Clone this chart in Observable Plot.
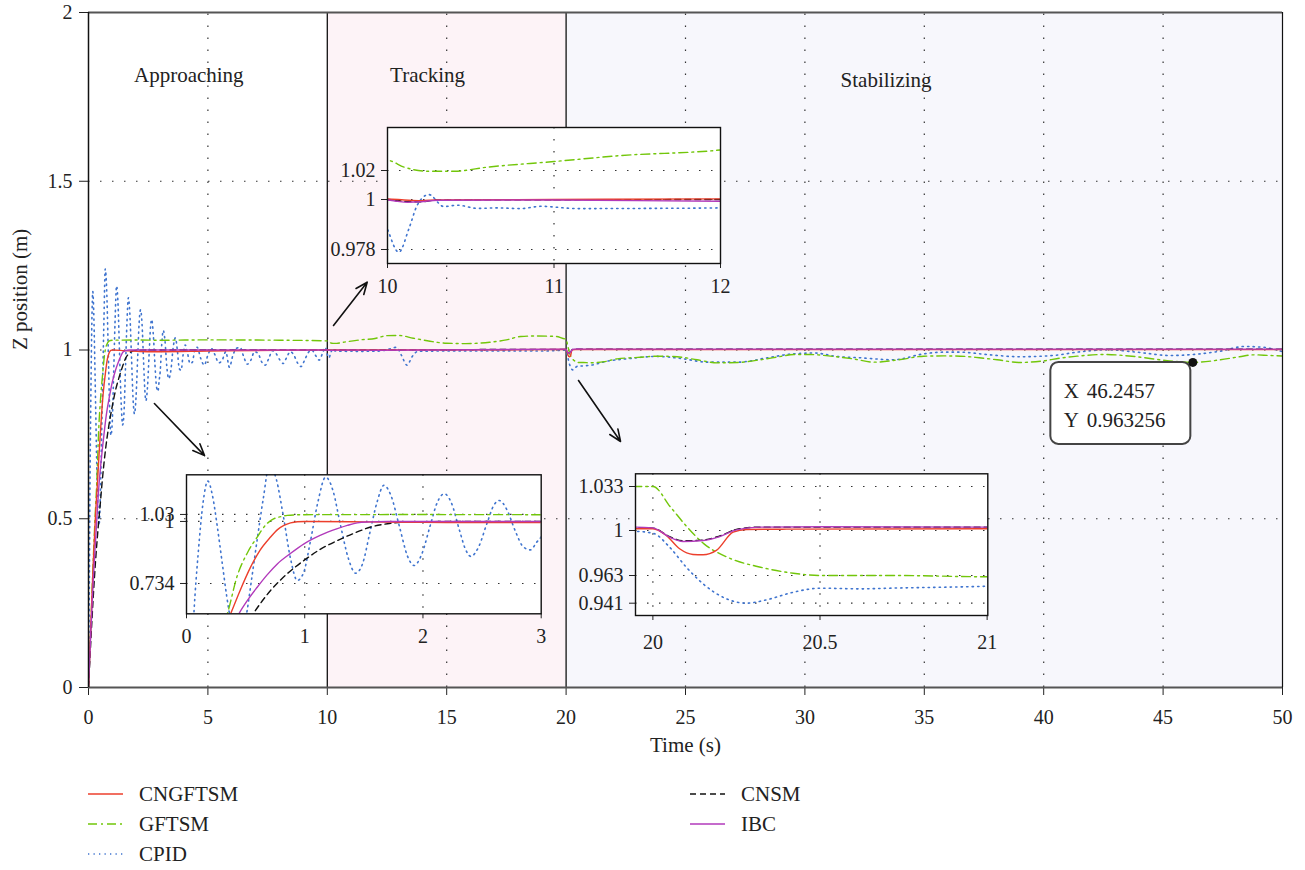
<!DOCTYPE html>
<html><head><meta charset="utf-8">
<script src="https://cdn.jsdelivr.net/npm/d3@7"></script>
<script src="https://cdn.jsdelivr.net/npm/@observablehq/plot@0.6"></script>
<style>
body{margin:0;background:#fff;font-family:"Liberation Serif","Times New Roman",serif;color:#222;}
#wrap{position:relative;width:1305px;height:870px;overflow:hidden;}
.inset{position:absolute;}
.leg{position:absolute;display:flex;align-items:center;font-size:21px;}
.leg svg{margin-right:15px;}
</style></head><body><div id="wrap"></div>
<script>
// ---------- DATA ----------
const seriesNames = ["CNGFTSM","GFTSM","CPID","CNSM","IBC"];
const seriesColors = ["#ec3f2c","#72c60a","#3f74cf","#111111","#b23abb"];
const seriesDash = ["", "9,4,2,4", "1.3,4.2", "6,4", ""];

const cngT = [0,0.1,0.2,0.3,0.373,0.45,0.542,0.62,0.711,0.77,0.824,0.88,0.937,1.0,1.5,2.0,2.5,3.0,5,10,10.1,10.2,10.3,11,12,15,19.948,20.0,20.04,20.08,20.12,20.15,20.19,20.24,20.28,20.4,21,30,40,50];
const cngZ = [0,0.19,0.37,0.52,0.604,0.70,0.804,0.875,0.933,0.965,0.983,0.994,0.999,1.0,0.998,0.996,0.995,0.995,0.997,1.0003,0.9998,0.9995,0.9998,1.0,1.0004,1.0003,1.0013,1.0013,0.9959,0.985,0.9803,0.980,0.9836,0.9986,1.0008,1.001,1.0013,1.001,1.001,1.001];

const gftT = [0,0.1,0.2,0.3,0.345,0.43,0.52,0.598,0.67,0.74,0.8,0.852,1.0,2,3,5,8,10,10.1,10.24,10.4,10.6,11,11.4,12,12.5,13,13.6,14.3,15,15.8,16.8,17.5,18.1,18.8,19.6,19.948,20.0,20.053,20.103,20.153,20.223,20.322,20.42,20.5,20.72,21.0,21.6,22.14,23,23.81,24.65,25.49,26.33,27.17,28.14,29.0,29.54,30.2,31.21,32.0,32.9,34.0,34.98,35.8,36.5,37.3,38.05,39.03,40.0,40.7,41.4,42.52,43.9,45.17,46.25,47.4,48.2,48.8,49.4,50];
const gftZ = [0,0.19,0.38,0.54,0.604,0.768,0.87,0.933,0.985,1.0116,1.021,1.026,1.029,1.0295,1.029,1.03,1.029,1.027,1.0223,1.0195,1.0195,1.0223,1.0262,1.0303,1.0342,1.0425,1.043,1.035,1.026,1.020,1.019,1.023,1.03,1.040,1.0415,1.040,1.033,1.033,1.0175,1.0025,0.989,0.978,0.9698,0.9649,0.963,0.963,0.962,0.9655,0.9738,0.978,0.9817,0.980,0.971,0.962,0.963,0.971,0.981,0.9867,0.9867,0.9807,0.974,0.964,0.9717,0.9817,0.9825,0.9817,0.977,0.971,0.963,0.968,0.976,0.9817,0.9867,0.980,0.9684,0.9633,0.971,0.980,0.9857,0.984,0.982];

const cpidT = [0,0.03,0.062,0.1,0.14,0.18,0.22,0.26,0.30,0.34,0.38,0.44,0.5,0.55,0.6,0.65,0.7,0.76,0.82,0.88,0.937,0.99,1.05,1.11,1.177,1.24,1.3,1.37,1.43,1.49,1.55,1.61,1.67,1.73,1.8,1.87,1.925,1.99,2.06,2.12,2.18,2.24,2.31,2.36,2.405,2.47,2.54,2.6,2.645,2.71,2.78,2.85,2.91,2.96,3.0,3.07,3.13,3.2,3.28,3.36,3.45,3.55,3.64,3.72,3.8,3.88,3.96,4.05,4.15,4.25,4.35,4.45,4.55,4.7,4.85,5.0,5.15,5.3,5.45,5.6,5.75,5.9,6.05,6.2,6.35,6.5,6.65,6.8,6.95,7.1,7.25,7.4,7.55,7.7,7.85,8.0,8.15,8.3,8.45,8.6,8.75,8.9,9.05,9.2,9.35,9.5,9.66,9.8,9.92,10.0,10.068,10.128,10.178,10.248,10.338,10.42,10.54,10.66,10.8,10.92,11.14,11.6,11.98,12.3,12.6,12.9,13.1,13.34,13.55,13.8,15,17,19,19.948,20.0,20.05,20.1,20.15,20.22,20.28,20.34,20.42,20.5,20.62,20.72,21.0,21.72,22.56,23.8,24.9,25.9,27.2,28.42,29.5,30.4,31.35,32.3,33.7,34.98,35.8,36.5,37.6,39.0,40.4,41.4,42.66,43.9,45.3,46.25,47.4,48.4,49.2,50];
const cpidZ = [0,0.25,0.6,0.87,1.08,1.173,1.11,0.98,0.83,0.68,0.56,0.48,0.58,0.75,0.93,1.1,1.24,1.18,1.02,0.84,0.747,0.78,0.92,1.08,1.19,1.13,0.99,0.84,0.778,0.82,0.95,1.08,1.155,1.11,0.98,0.85,0.811,0.86,0.98,1.08,1.119,1.08,0.96,0.88,0.85,0.89,0.99,1.07,1.09,1.05,0.96,0.89,0.878,0.91,0.934,1.02,1.058,1.03,0.95,0.915,0.94,1.01,1.036,1.0,0.945,0.94,0.985,1.015,0.99,0.96,0.964,1.0,1.008,0.975,0.955,0.985,1.004,0.985,0.962,0.97,0.995,0.949,0.985,1.005,1.008,0.98,0.958,0.97,0.995,0.99,0.965,0.955,0.975,0.998,0.99,0.972,0.96,0.978,0.995,0.985,0.962,0.951,0.97,0.992,1.0,0.985,0.97,0.99,1.008,0.987,0.9768,0.987,0.9974,1.0034,0.9969,0.9975,0.9961,0.9963,0.996,0.997,0.996,0.9961,0.9963,0.998,1.003,1.008,0.985,0.955,0.98,0.996,0.997,0.997,0.997,0.9992,0.9978,0.9863,0.9698,0.9564,0.9445,0.941,0.9437,0.9497,0.9529,0.9524,0.953,0.9545,0.9668,0.974,0.981,0.974,0.964,0.964,0.9768,0.9886,0.991,0.9807,0.977,0.971,0.9886,0.9936,0.9936,0.9867,0.980,0.9837,0.9936,1.0005,0.9936,0.9837,0.9867,0.9966,1.0104,1.008,0.995];

const cnsmT = [0,0.1,0.2,0.3,0.4,0.5,0.565,0.711,0.85,0.994,1.13,1.276,1.42,1.558,1.7,1.84,2.0,2.4,3,5,10,10.1,10.2,10.3,12,19.948,20.0,20.05,20.09,20.15,20.2,20.25,20.32,21,50];
const cnsmZ = [0,0.14,0.27,0.38,0.47,0.55,0.604,0.704,0.775,0.833,0.88,0.918,0.95,0.976,0.99,0.997,0.999,1.0,1.0,1.0,1.0,0.9992,0.999,0.9998,1.0,1.002,1.0018,0.995,0.9915,0.9922,0.9955,1.0008,1.0025,1.0025,1.0025];

const ibcT = [0,0.1,0.2,0.3,0.443,0.52,0.598,0.68,0.768,0.88,0.994,1.13,1.276,1.36,1.445,1.55,1.7,2.0,3,10,10.06,10.12,10.2,10.3,11,12,19.948,20.0,20.05,20.09,20.15,20.2,20.25,20.32,20.5,21,50];
const ibcZ = [0,0.17,0.32,0.44,0.604,0.665,0.718,0.77,0.818,0.863,0.904,0.94,0.969,0.983,0.994,0.998,1.0,1.0,1.0,0.9998,0.9992,0.9988,0.999,0.9997,0.9998,0.9992,1.0025,1.002,0.9945,0.991,0.9918,0.995,1.0005,1.0025,1.0028,1.0025,1.0025];

const xTicksMain = [0,5,10,15,20,25,30,35,40,45,50];
const yTicksMain = [0,0.5,1,1.5,2];
const gridXMain = [5,15,25,30,35,40,45];
const gridYMain = [0.5,1,1.5];
const phaseStart = [0,10,20], phaseEnd = [10,20,50];
const phaseFill = ["#ffffff","#fdf3f7","#f7f7fc"];
const phaseNames = ["Approaching","Tracking","Stabilizing"];
const phaseLabelX = [4.2,14.2,33.4], phaseLabelY = [1.813,1.813,1.80];
const arrowX1 = [10.26,2.76,20.52], arrowY1 = [1.0726,0.8415,0.9096];
const arrowX2 = [11.67,4.86,22.28], arrowY2 = [1.2009,0.687,0.729];
const tipT = [46.2457], tipZ = [0.963256];
const tipLabels = ["X","Y"], tipValues = ["46.2457","0.963256"];

// ---------- BUILD ----------
const FONT = '"Liberation Serif","Times New Roman",serif';
const seriesData = {
  CNGFTSM: [cngT, cngZ], GFTSM: [gftT, gftZ], CPID: [cpidT, cpidZ], CNSM: [cnsmT, cnsmZ], IBC: [ibcT, ibcZ]
};
function rows(name){ const [T,Z] = seriesData[name]; return T.map((t,i)=>({t, z:Z[i], name})); }
const drawOrder = ["CPID","GFTSM","CNSM","CNGFTSM","IBC"];
function lines(lo, hi, fy){
  return drawOrder.map(name => {
    const i = seriesNames.indexOf(name);
    const data = rows(name).filter((d,k,a)=> (d.t>=lo && d.t<=hi) || (a[k+1] && a[k+1].t>=lo && d.t<lo) || (a[k-1] && a[k-1].t<=hi && d.t>hi));
    const o = {x:"t", y: fy ? (d=>fy(d.z)) : "z", stroke: seriesColors[i], strokeWidth: name==="CPID"?1.6:1.4, curve:"monotone-x", clip:true};
    if (seriesDash[i]) o.strokeDasharray = seriesDash[i];
    return Plot.line(data, o);
  });
}
const wrap = document.getElementById("wrap");
const phases = phaseStart.map((s,i)=>({s, e:phaseEnd[i], fill:phaseFill[i]}));
const phaseLbl = phaseNames.map((n,i)=>({n, x:phaseLabelX[i], y:phaseLabelY[i]}));
const arrows = arrowX1.map((x,i)=>({x1:x, y1:arrowY1[i], x2:arrowX2[i], y2:arrowY2[i]}));
const tip = [{t:tipT[0], z:tipZ[0]}];
const dotted = {stroke:"#333", strokeWidth:1.2, strokeDasharray:"1.5,10.5"};

const main = Plot.plot({
  width:1305, height:770, marginLeft:88, marginRight:23, marginTop:12, marginBottom:83,
  style:{fontFamily:FONT, fontSize:"20px", background:"transparent", color:"#222", overflow:"visible"},
  x:{domain:[0,50], ticks:xTicksMain, tickSize:8, tickPadding:14, tickFormat:d=>String(d), label:null},
  y:{domain:[0,2], ticks:yTicksMain, tickSize:9, tickPadding:7, tickFormat:d=>String(d), label:null},
  marks:[
    Plot.rect(phases, {x1:"s", x2:"e", y1:0, y2:2, fill:d=>d.fill}),
    Plot.ruleX(gridXMain, {y1:0, y2:2, ...dotted}),
    Plot.ruleY(gridYMain, {x1:0, x2:50, ...dotted}),
    Plot.ruleX([10,20], {y1:0, y2:2, stroke:"#111", strokeWidth:1.3}),
    Plot.text(phaseLbl, {x:"x", y:"y", text:"n", fontSize:21, fill:"#222"}),
    ...lines(0,50),
    Plot.ruleY([0], {x1:0, x2:50, stroke:"#555", strokeWidth:2.2}),
    Plot.ruleY([2], {x1:0, x2:50, stroke:"#555", strokeWidth:2.2}),
    Plot.ruleX([0], {y1:0, y2:2, stroke:"#111", strokeWidth:1.5}),
    Plot.ruleX([50], {y1:0, y2:2, stroke:"#111", strokeWidth:1.2}),
    Plot.arrow(arrows, {x1:"x1", y1:"y1", x2:"x2", y2:"y2", stroke:"#111", strokeWidth:1.6, headLength:12, headAngle:45}),
    Plot.rect(tip, {x1:"t", x2:"t", y1:"z", y2:"z", insetLeft:-142, insetRight:2, insetBottom:-82, insetTop:0, fill:"white", stroke:"#444", strokeWidth:2, rx:8}),
    Plot.text(tip, {x:"t", y:"z", text:()=>tipLabels[0], dx:-129, dy:29, textAnchor:"start", fontSize:21, fill:"#222"}),
    Plot.text(tip, {x:"t", y:"z", text:()=>tipValues[0], dx:-106, dy:29, textAnchor:"start", fontSize:21, fill:"#222"}),
    Plot.text(tip, {x:"t", y:"z", text:()=>tipLabels[1], dx:-129, dy:58, textAnchor:"start", fontSize:21, fill:"#222"}),
    Plot.text(tip, {x:"t", y:"z", text:()=>tipValues[1], dx:-106, dy:58, textAnchor:"start", fontSize:21, fill:"#222"}),
    Plot.dot(tip, {x:"t", y:"z", r:4.5, fill:"#111"}),
    Plot.text(["Time (s)"], {frameAnchor:"bottom", dy:64, text:d=>d, fontSize:21, fill:"#222"}),
    Plot.text(["Z position (m)"], {frameAnchor:"left", dx:-68, rotate:-90, text:d=>d, fontSize:21, fill:"#222"})
  ]
});
wrap.appendChild(main);
main.style.position="absolute"; main.style.left="0px"; main.style.top="0px";

// ---------- INSETS ----------
// Inset y axes in the source are not uniformly spaced; a piecewise d3 map gives the display coordinate.
function inset(cfg){
  const fy = cfg.yr ? d3.scaleLinear().domain(cfg.yd).range(cfg.yr.map(p=>-p)) : (v=>v);
  const ydom = cfg.yr ? [-(cfg.h-cfg.mb), -cfg.mt] : cfg.yd;
  const yt = cfg.yt.map(fy);
  const p = Plot.plot({
    width:cfg.w, height:cfg.h, marginLeft:cfg.ml, marginRight:cfg.mr, marginTop:cfg.mt, marginBottom:cfg.mb,
    style:{fontFamily:FONT, fontSize:"20px", background:"transparent", color:"#222", overflow:"visible"},
    x:{domain:cfg.xd, ticks:cfg.xt, tickSize:5, tickPadding:cfg.xpad, tickFormat:d=>String(d), label:null},
    y:{domain:ydom, ticks:yt, tickSize:6, tickPadding:6, tickFormat:(v,i)=>String(cfg.yt[yt.indexOf(v)]), label:null},
    marks:[
      Plot.frame({fill:"white"}),
      Plot.ruleX(cfg.gx, {...dotted}),
      Plot.ruleY(yt, {...dotted}),
      ...lines(cfg.xd[0], cfg.xd[1], cfg.yr ? fy : null),
      Plot.frame({stroke:"#111", strokeWidth:1.4})
    ]
  });
  p.classList.add("inset");
  p.style.left=cfg.left+"px"; p.style.top=cfg.top+"px";
  wrap.appendChild(p);
}
// tracking inset
inset({left:320, top:120, w:420, h:180, ml:67, mr:20, mt:7, mb:37,
  xd:[10,12], xt:[10,11,12], gx:[11], xpad:10,
  yd:[0.9718,0.978,1,1.02,1.0497], yr:[143,129,79,50,7], yt:[0.978,1,1.02]});
// approaching inset
inset({left:120, top:465, w:440, h:185, ml:66, mr:19.3, mt:9.3, mb:36.7,
  xd:[0,3], xt:[0,1,2,3], gx:[1,2], xpad:10,
  yd:[0.604,1.2], yt:[0.734,1,1.03]});
// stabilizing inset
inset({left:570, top:465, w:430, h:190, ml:65, mr:12.7, mt:8.3, mb:40,
  xd:[19.948,21.002], xt:[20,20.5,21], gx:[20,20.5], xpad:14,
  yd:[0.9312,0.941,0.963,1.0,1.033,1.0425], yr:[150,137.7,110,65,21,8.3], yt:[0.941,0.963,1,1.033]});

// ---------- LEGEND ----------
const legendCol = [0,0,0,1,1], legendRow = [0,1,2,0,1];
seriesNames.forEach((name,i)=>{
  const d = document.createElement("div");
  d.className="leg";
  d.style.left = (legendCol[i]? 690 : 88)+"px";
  d.style.top = (780 + legendRow[i]*30)+"px";
  d.style.height="28px";
  const dash = seriesDash[i] ? `stroke-dasharray="${seriesDash[i]}"` : "";
  d.innerHTML = `<svg width="36" height="10"><line x1="0" x2="35" y1="5" y2="5" stroke="${seriesColors[i]}" stroke-width="${name==='CPID'?1.6:1.4}" ${dash}/></svg><span>${name}</span>`;
  wrap.appendChild(d);
});
</script></body></html>
